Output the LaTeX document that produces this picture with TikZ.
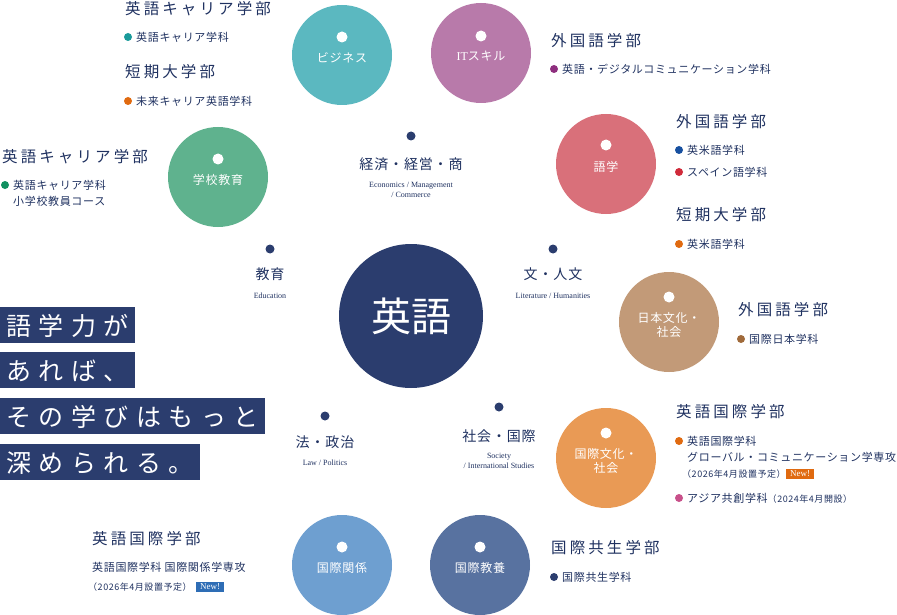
\documentclass[tikz,border=0pt]{standalone}
\usepackage{fontspec}
\setmainfont{Noto Sans CJK JP}
\newfontfamily\latin{Liberation Serif}
\newfontfamily\spA[LetterSpace=20]{Noto Sans CJK JP}
\newfontfamily\spB[LetterSpace=30]{Noto Sans CJK JP}
\newfontfamily\spC[LetterSpace=6]{Noto Sans CJK JP}
\definecolor{navy}{HTML}{2B3D6E}
\definecolor{txt}{HTML}{1F3160}
\definecolor{cteal}{HTML}{5BB8C0}
\definecolor{cpurp}{HTML}{B87AAA}
\definecolor{cgreen}{HTML}{5FB28E}
\definecolor{cpink}{HTML}{D9707A}
\definecolor{ctan}{HTML}{C29A78}
\definecolor{corange}{HTML}{E99A55}
\definecolor{clblue}{HTML}{6E9FD0}
\definecolor{cslate}{HTML}{5872A0}
\definecolor{dteal}{HTML}{1A9A9A}
\definecolor{dpurp}{HTML}{8E2E7E}
\definecolor{dgreen}{HTML}{109060}
\definecolor{dblue}{HTML}{1750A0}
\definecolor{dred}{HTML}{D02A3A}
\definecolor{dorange}{HTML}{E06A10}
\definecolor{dbrown}{HTML}{A06A3A}
\definecolor{dpink}{HTML}{C8508A}
\definecolor{newblue}{HTML}{2E6DB5}
\begin{document}
\begin{tikzpicture}[x=1pt,y=-1pt,
 field/.style={circle,minimum size=100pt,inner sep=0,text=white,font=\spC\fontsize{12}{14}\selectfont,align=center},
 wdot/.style={circle,fill=white,minimum size=11pt,inner sep=0},
 ndot/.style={circle,fill=navy,minimum size=9pt,inner sep=0},
 cat/.style={text=txt,font=\spC\fontsize{14}{16}\selectfont,inner sep=0},
 eng/.style={text=txt,font=\latin\fontsize{8}{9.5}\selectfont,align=center,inner sep=0},
 head/.style={text=txt,font=\spA\fontsize{15.5}{18}\selectfont,anchor=west,inner sep=0},
 item/.style={text=txt,font=\spC\fontsize{11}{13}\selectfont,anchor=west,inner sep=0},
 sm/.style={text=txt,font=\spC\fontsize{9}{11}\selectfont,anchor=west,inner sep=0},
 bd/.style={circle,minimum size=8pt,inner sep=0},
 slogan/.style={fill=navy,text=white,font=\spB\fontsize{25}{28}\selectfont,anchor=north west,inner xsep=6pt,minimum height=36pt,text depth=0pt},
 newtag/.style={text=white,font=\latin\fontsize{9}{10}\selectfont,inner xsep=4pt,inner ysep=2pt,anchor=west}]
\useasboundingbox (0,0) rectangle (897,615);
% center
\node[circle,fill=navy,minimum size=144pt,text=white,font=\fontsize{40}{44}\selectfont] (core) at (411,316) {英語};
% fields
\node[field,fill=cteal] (biz) at (342,55) {\\[2pt]ビジネス};
\node[field,fill=cpurp] (it) at (481,53) {\\[2pt]{\latin IT}スキル};
\node[field,fill=cgreen] (edu) at (218,177) {\\[2pt]学校教育};
\node[field,fill=cpink] (lang) at (606,164) {\\[2pt]語学};
\node[field,fill=ctan] (jpn) at (669,322) {\\[2pt]日本文化・\\社会};
\node[field,fill=corange] (intc) at (606,458) {\\[2pt]国際文化・\\社会};
\node[field,fill=clblue] (intr) at (342,565) {\\[2pt]国際関係};
\node[field,fill=cslate] (libs) at (480,565) {\\[2pt]国際教養};
\node[wdot] (w1) at (342,37) {};
\node[wdot] (w2) at (481,36) {};
\node[wdot] (w3) at (218,159) {};
\node[wdot] (w4) at (606,145) {};
\node[wdot] (w5) at (669,297) {};
\node[wdot] (w6) at (606,433) {};
\node[wdot] (w7) at (342,547) {};
\node[wdot] (w8) at (480,547) {};
% categories
\node[ndot] (d1) at (411,136) {};
\node[cat] (c1) at (411,164) {経済・経営・商};
\node[eng] (e1) at (411,190) {Economics / Management\\/ Commerce};
\node[ndot] (d2) at (270,249) {};
\node[cat] (c2) at (270,274) {教育};
\node[eng] (e2) at (270,296) {Education};
\node[ndot] (d3) at (553,249) {};
\node[cat] (c3) at (553,274) {文・人文};
\node[eng] (e3) at (553,296) {Literature / Humanities};
\node[ndot] (d4) at (325,416) {};
\node[cat] (c4) at (325,442) {法・政治};
\node[eng] (e4) at (325,463) {Law / Politics};
\node[ndot] (d5) at (499,407) {};
\node[cat] (c5) at (499,436) {社会・国際};
\node[eng] (e5) at (499,461) {Society\\/ International Studies};
% slogan
\node[slogan] (s1) at (0,307) {語学力が};
\node[slogan] (s2) at (0,352) {あれば、};
\node[slogan] (s3) at (0,398) {その学びはもっと};
\node[slogan] (s4) at (0,444) {深められる。};
% text blocks
\node[head] (h1) at (125,9) {英語キャリア学部};
\node[bd,fill=dteal] (b1) at (128,37) {};
\node[item] (i1) at (136,37) {英語キャリア学科};
\node[head] (h2) at (125,72) {短期大学部};
\node[bd,fill=dorange] (b2) at (128,101) {};
\node[item] (i2) at (136,101) {未来キャリア英語学科};

\node[head] (h3) at (551,41) {外国語学部};
\node[bd,fill=dpurp] (b3) at (554,69) {};
\node[item] (i3) at (562,69) {英語・デジタルコミュニケーション学科};

\node[head] (h4) at (2,157) {英語キャリア学部};
\node[bd,fill=dgreen] (b4) at (5,185) {};
\node[item] (i4) at (13,185) {英語キャリア学科};
\node[item] (i4b) at (13,201) {小学校教員コース};

\node[head] (h5) at (676,122) {外国語学部};
\node[bd,fill=dblue] (b5) at (679,150) {};
\node[item] (i5) at (687,150) {英米語学科};
\node[bd,fill=dred] (b6) at (679,172) {};
\node[item] (i6) at (687,172) {スペイン語学科};
\node[head] (h6) at (676,215) {短期大学部};
\node[bd,fill=dorange] (b7) at (679,244) {};
\node[item] (i7) at (687,244) {英米語学科};

\node[head] (h7) at (738,310) {外国語学部};
\node[bd,fill=dbrown] (b8) at (741,339) {};
\node[item] (i8) at (749,339) {国際日本学科};

\node[head] (h8) at (676,412) {英語国際学部};
\node[bd,fill=dorange] (b9) at (679,441) {};
\node[item] (i9) at (687,441) {英語国際学科};
\node[item] (i9b) at (687,457) {グローバル・コミュニケーション学専攻};
\node[sm] (i9c) at (682,474) {（2026年4月設置予定）};
\node[newtag,fill=dorange] (n1) at (i9c.east) {New!};
\node[bd,fill=dpink] (b10) at (679,498) {};
\node[item] (i10) at (687,498) {アジア共創学科\fontsize{9}{11}\selectfont（2024年4月開設）};

\node[head] (h9) at (92,539) {英語国際学部};
\node[item] (i11) at (92,567) {英語国際学科\ 国際関係学専攻};
\node[sm] (i11b) at (88,587) {（2026年4月設置予定）};
\node[newtag,fill=newblue] (n2) at ([xshift=4pt]i11b.east) {New!};

\node[head] (h10) at (551,548) {国際共生学部};
\node[bd,fill=navy] (b11) at (554,577) {};
\node[item] (i12) at (562,577) {国際共生学科};
\end{tikzpicture}
\end{document}
